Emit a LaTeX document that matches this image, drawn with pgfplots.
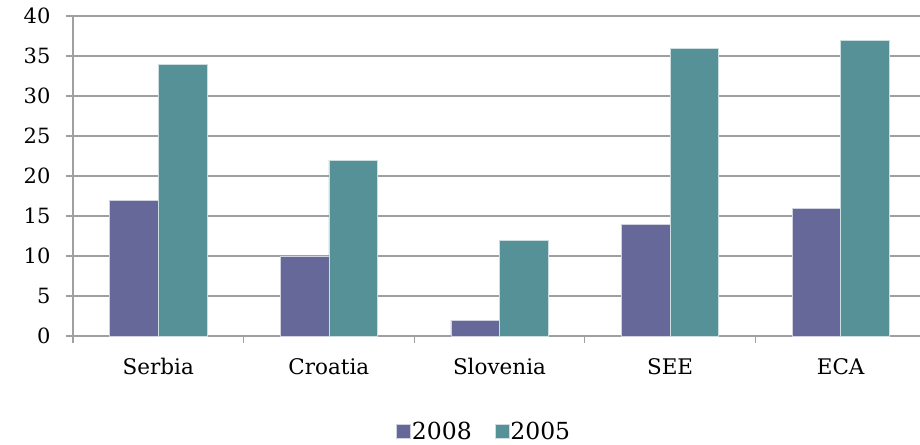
\documentclass[border=0pt]{standalone}
\usepackage{fontspec}
\setmainfont{DejaVu Serif}
\usepackage{pgfplots}
\pgfplotsset{compat=1.18}
\definecolor{cA}{RGB}{102,104,153}
\definecolor{cB}{RGB}{85,145,150}
\definecolor{gridc}{RGB}{160,160,160}
\begin{document}
\begin{tikzpicture}
\useasboundingbox (0pt,0pt) rectangle (920pt,444pt);
\begin{axis}[
  at={(73pt,108pt)}, anchor=south west,
  scale only axis, width=847pt, height=320pt,
  ymin=0, ymax=40, ytick={0,5,...,40},
  xmin=-0.5, xmax=4.465,
  xtick={0,1,2,3,4},
  xticklabels={Serbia,Croatia,Slovenia,SEE,ECA},
  minor xtick={-0.5,0.5,1.5,2.5,3.5},
  major x tick style={draw=none},
  minor tick length=7pt, major tick length=7pt,
  tick align=outside,
  axis lines*=left,
  axis line style={gridc, line width=1.3pt},
  tick style={gridc, line width=1.3pt},
  ymajorgrids, grid style={gridc, line width=1.3pt},
  ybar=0pt, bar width=48.5pt,
  yticklabel style={font=\fontsize{21}{21}\selectfont, text=black, xshift=-12pt},
  xticklabel style={font=\fontsize{21.5}{21.5}\selectfont, text=black, yshift=-12pt},
  /pgf/number format/assume math mode=true,
  legend style={at={(0.485,-0.3)}, anchor=center, draw=none, legend columns=2,
    font=\fontsize{23.5}{23.5}\selectfont, inner sep=0pt,
    nodes={inner sep=1pt},
    /tikz/every even column/.append style={column sep=22pt}},
  legend image code/.code={\fill[#1] (0pt,-6pt) rectangle (14pt,8pt);},
  clip=false,
]
\addplot[fill=cA, draw=white!70!cA, line width=0.6pt] coordinates {(0,17) (1,10) (2,2) (3,14) (4,16)};
\addplot[fill=cB, draw=white!70!cB, line width=0.6pt] coordinates {(0,34) (1,22) (2,12) (3,36) (4,37)};
\legend{2008,2005}
\end{axis}
\end{tikzpicture}
\end{document}
